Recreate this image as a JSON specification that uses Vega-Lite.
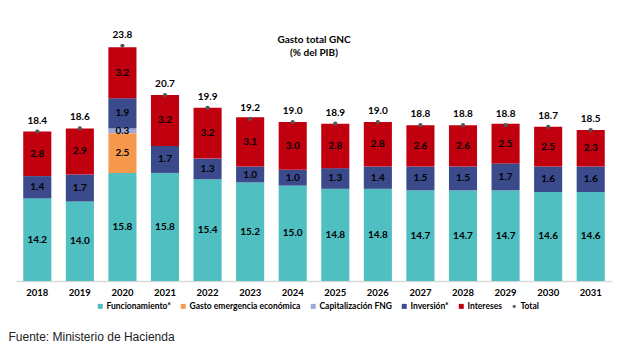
{
  "$schema": "https://vega.github.io/schema/vega-lite/v6.json",
  "autosize": "none",
  "width": 596,
  "height": 271,
  "padding": {"top": 10, "left": 16, "right": 8, "bottom": 70},
  "background": "white",
  "title": {
    "text": "Gasto total GNC",
    "subtitle": "(% del PIB)",
    "anchor": "middle",
    "orient": "top",
    "offset": -48,
    "font": "Lato",
    "fontSize": 10,
    "fontWeight": "bold",
    "color": "#000000",
    "subtitleFont": "Lato",
    "subtitleFontSize": 10,
    "subtitleFontWeight": "bold",
    "subtitleColor": "#000000",
    "subtitlePadding": 3
  },
  "datasets": {
    "parts": [
      {"year": "2018", "serie": "Funcionamiento*", "k": 1, "value": 14.2},
      {"year": "2018", "serie": "Inversión*", "k": 4, "value": 1.4},
      {"year": "2018", "serie": "Intereses", "k": 5, "value": 2.8},
      {"year": "2019", "serie": "Funcionamiento*", "k": 1, "value": 14.0},
      {"year": "2019", "serie": "Inversión*", "k": 4, "value": 1.7},
      {"year": "2019", "serie": "Intereses", "k": 5, "value": 2.9},
      {"year": "2020", "serie": "Funcionamiento*", "k": 1, "value": 15.8},
      {"year": "2020", "serie": "Gasto emergencia económica", "k": 2, "value": 2.5},
      {"year": "2020", "serie": "Capitalización FNG", "k": 3, "value": 0.3},
      {"year": "2020", "serie": "Inversión*", "k": 4, "value": 1.9},
      {"year": "2020", "serie": "Intereses", "k": 5, "value": 3.2},
      {"year": "2021", "serie": "Funcionamiento*", "k": 1, "value": 15.8},
      {"year": "2021", "serie": "Inversión*", "k": 4, "value": 1.7},
      {"year": "2021", "serie": "Intereses", "k": 5, "value": 3.2},
      {"year": "2022", "serie": "Funcionamiento*", "k": 1, "value": 15.4},
      {"year": "2022", "serie": "Inversión*", "k": 4, "value": 1.3},
      {"year": "2022", "serie": "Intereses", "k": 5, "value": 3.2},
      {"year": "2023", "serie": "Funcionamiento*", "k": 1, "value": 15.2},
      {"year": "2023", "serie": "Inversión*", "k": 4, "value": 1.0},
      {"year": "2023", "serie": "Intereses", "k": 5, "value": 3.1},
      {"year": "2024", "serie": "Funcionamiento*", "k": 1, "value": 15.0},
      {"year": "2024", "serie": "Inversión*", "k": 4, "value": 1.0},
      {"year": "2024", "serie": "Intereses", "k": 5, "value": 3.0},
      {"year": "2025", "serie": "Funcionamiento*", "k": 1, "value": 14.8},
      {"year": "2025", "serie": "Inversión*", "k": 4, "value": 1.3},
      {"year": "2025", "serie": "Intereses", "k": 5, "value": 2.8},
      {"year": "2026", "serie": "Funcionamiento*", "k": 1, "value": 14.8},
      {"year": "2026", "serie": "Inversión*", "k": 4, "value": 1.4},
      {"year": "2026", "serie": "Intereses", "k": 5, "value": 2.8},
      {"year": "2027", "serie": "Funcionamiento*", "k": 1, "value": 14.7},
      {"year": "2027", "serie": "Inversión*", "k": 4, "value": 1.5},
      {"year": "2027", "serie": "Intereses", "k": 5, "value": 2.6},
      {"year": "2028", "serie": "Funcionamiento*", "k": 1, "value": 14.7},
      {"year": "2028", "serie": "Inversión*", "k": 4, "value": 1.5},
      {"year": "2028", "serie": "Intereses", "k": 5, "value": 2.6},
      {"year": "2029", "serie": "Funcionamiento*", "k": 1, "value": 14.7},
      {"year": "2029", "serie": "Inversión*", "k": 4, "value": 1.7},
      {"year": "2029", "serie": "Intereses", "k": 5, "value": 2.5},
      {"year": "2030", "serie": "Funcionamiento*", "k": 1, "value": 14.6},
      {"year": "2030", "serie": "Inversión*", "k": 4, "value": 1.6},
      {"year": "2030", "serie": "Intereses", "k": 5, "value": 2.5},
      {"year": "2031", "serie": "Funcionamiento*", "k": 1, "value": 14.6},
      {"year": "2031", "serie": "Inversión*", "k": 4, "value": 1.6},
      {"year": "2031", "serie": "Intereses", "k": 5, "value": 2.3}
    ],
    "totals": [
      {"year": "2018", "total": 18.4},
      {"year": "2019", "total": 18.6},
      {"year": "2020", "total": 23.8},
      {"year": "2021", "total": 20.7},
      {"year": "2022", "total": 19.9},
      {"year": "2023", "total": 19.2},
      {"year": "2024", "total": 19.0},
      {"year": "2025", "total": 18.9},
      {"year": "2026", "total": 19.0},
      {"year": "2027", "total": 18.8},
      {"year": "2028", "total": 18.8},
      {"year": "2029", "total": 18.8},
      {"year": "2030", "total": 18.7},
      {"year": "2031", "total": 18.5}
    ]
  },
  "encoding": {
    "x": {
      "field": "year",
      "type": "ordinal",
      "scale": {"paddingInner": 0.34, "paddingOuter": 0.17},
      "axis": {
        "title": "Fuente: Ministerio de Hacienda",
        "titleAnchor": "start",
        "titleAlign": "left",
        "titleX": -8,
        "titleY": 55,
        "titleBaseline": "middle",
        "titleFont": "Liberation Sans",
        "titleFontSize": 12,
        "titleFontWeight": "normal",
        "titleColor": "#222222",
        "labelAngle": 0,
        "labelFont": "Lato",
        "labelFontSize": 9.5,
        "labelFontWeight": "bold",
        "labelColor": "#000000",
        "labelPadding": 6,
        "ticks": false,
        "domainColor": "#D9D9D9",
        "domainWidth": 1.5
      }
    }
  },
  "layer": [
    {
      "data": {"name": "parts"},
      "transform": [
        {"stack": "value", "groupby": ["year"], "sort": [{"field": "k", "order": "ascending"}], "as": ["y0", "y1"]}
      ],
      "mark": {"type": "bar", "clip": true},
      "encoding": {
        "y": {"field": "y0", "type": "quantitative", "scale": {"domain": [9, 26.05], "zero": false, "nice": false}, "axis": null},
        "y2": {"field": "y1"},
        "color": {
          "field": "serie",
          "type": "nominal",
          "scale": {
            "domain": ["Funcionamiento*", "Gasto emergencia económica", "Capitalización FNG", "Inversión*", "Intereses", "Total"],
            "range": ["#4FBFC2", "#F7994D", "#9EA8D8", "#3B4A8B", "#C0000F", "#666666"]
          },
          "legend": {
            "title": null,
            "orient": "none",
            "legendX": 80,
            "legendY": 292,
            "direction": "horizontal",
            "columns": 6,
            "symbolType": "square",
            "symbolSize": 25,
            "symbolStrokeWidth": 0,
            "labelFont": "Lato",
            "labelFontSize": 8.5,
            "labelFontWeight": "bold",
            "labelColor": "#000000",
            "labelOffset": 2,
            "columnPadding": 8,
            "encode": {
              "symbols": {
                "update": {
                  "shape": {"signal": "datum.label === 'Total' ? 'circle' : 'square'"},
                  "size": {"signal": "datum.label === 'Total' ? 12 : 25"}
                }
              }
            }
          }
        }
      }
    },
    {
      "data": {"name": "parts"},
      "transform": [
        {"stack": "value", "groupby": ["year"], "sort": [{"field": "k", "order": "ascending"}], "as": ["y0", "y1"]},
        {"calculate": "(max(datum.y0, 9) + datum.y1) / 2", "as": "mid"}
      ],
      "mark": {"type": "text", "font": "Lato", "fontSize": 10, "fontWeight": "bold", "color": "#000000", "baseline": "middle"},
      "encoding": {
        "y": {"field": "mid", "type": "quantitative"},
        "text": {"field": "value", "type": "quantitative", "format": ".1f"}
      }
    },
    {
      "data": {"name": "totals"},
      "mark": {"type": "point", "filled": true, "size": 18, "color": "#555555", "opacity": 1},
      "encoding": {
        "y": {"field": "total", "type": "quantitative"}
      }
    },
    {
      "data": {"name": "totals"},
      "mark": {"type": "text", "font": "Lato", "fontSize": 10, "fontWeight": "bold", "color": "#000000", "dy": -11},
      "encoding": {
        "y": {"field": "total", "type": "quantitative"},
        "text": {"field": "total", "type": "quantitative", "format": ".1f"}
      }
    }
  ],
  "config": {"view": {"stroke": null}}
}
